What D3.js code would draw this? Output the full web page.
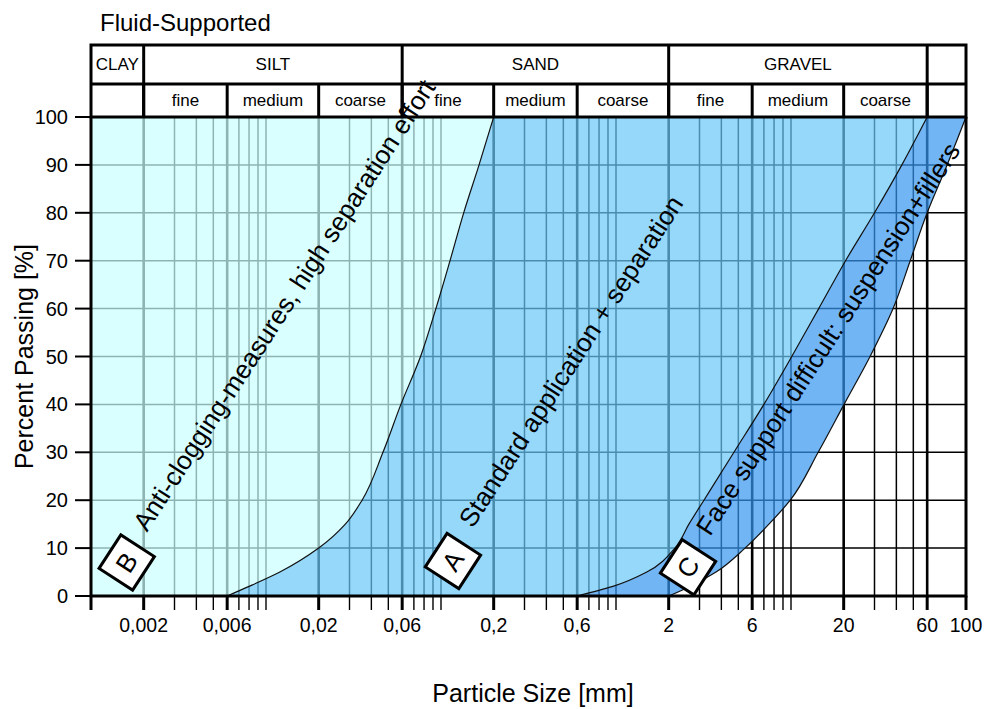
<!DOCTYPE html>
<html>
<head>
<meta charset="utf-8">
<script src="https://cdnjs.cloudflare.com/ajax/libs/d3/7.8.5/d3.min.js"></script>
<style>
body { margin: 0; background: #fff; }
svg text { font-family: "Liberation Sans", Arial, sans-serif; fill: #000; }
</style>
</head>
<body>
<div id="viz"></div>
<script>
// percent passing levels and grain sizes [mm] of the three limit curves
var passing = [0, 2, 5, 10, 15, 20, 30, 40, 50, 60, 70, 80, 90, 100];
var limitB  = [0.006, 0.008, 0.012, 0.02, 0.0284, 0.0354, 0.0466, 0.059, 0.0764, 0.0935, 0.1126, 0.1348, 0.165, 0.2];
var limitC1 = [0.6, 0.96, 1.5, 2.17, 2.61, 3.18, 4.72, 7.0, 10.1, 14.4, 20.5, 30, 43, 60];
var limitC2 = [2, 2.65, 3.73, 5.46, 7.48, 9.9, 14.3, 20.1, 28.3, 38.3, 48, 60, 78, 100];

var sizeTicks = [0.002, 0.006, 0.02, 0.06, 0.2, 0.6, 2, 6, 20, 60, 100];
var sizeTickLabels = ['0,002', '0,006', '0,02', '0,06', '0,2', '0,6', '2', '6', '20', '60', '100'];

// soil classes in the header
var classNames = ['CLAY', 'SILT', 'SAND', 'GRAVEL', ''];
var classEdges = [0.001, 0.002, 0.06, 2, 60, 100];
var subNames = ['', 'fine', 'medium', 'coarse', 'fine', 'medium', 'coarse', 'fine', 'medium', 'coarse', ''];
var subEdges = [0.001, 0.002, 0.006, 0.02, 0.06, 0.2, 0.6, 2, 6, 20, 60, 100];

// zone labels
var zoneLetters = ['B', 'A', 'C'];
var zoneTexts = ['Anti-clogging-measures, high separation effort',
                 'Standard application + separation',
                 'Face support difficult: suspension+fillers'];
var zoneBoxSize = [0.0016, 0.117, 2.58];
var zoneBoxPass = [7, 7.3, 6];
var zoneTextSize = [0.00209, 0.152, 3.44];
var zoneTextPass = [13.2, 14, 12.3];

var width = 987,
    height = 709,
    margin = {top: 117, right: 21, bottom: 113, left: 91},
    w = width - margin.left - margin.right,
    h = height - margin.top - margin.bottom,
    angle = -57;

var x = d3.scaleLog().domain([0.001, 100]).range([0, w]);
var y = d3.scaleLinear().domain([0, 100]).range([h, 0]);

var svg = d3.select('#viz').append('svg')
    .attr('width', width)
    .attr('height', height);

svg.append('text')
    .attr('x', 100).attr('y', 31)
    .style('font-size', '24px')
    .text('Fluid-Supported');

var g = svg.append('g').attr('transform', 'translate(' + margin.left + ',' + margin.top + ')');

function isMajor(d){
    return sizeTicks.some(function(t){ return Math.abs(t - d) / t < 1e-6; });
}

// grid (black, seen through the tinted zones)
var minor = x.ticks().filter(function(d){ return !(d > 60 && d < 100) && d > 0.001 && d < 100; });
g.selectAll('.vgrid').data(minor)
  .enter().append('line')
    .attr('x1', function(d){ return x(d); })
    .attr('x2', function(d){ return x(d); })
    .attr('y1', 0).attr('y2', h)
    .attr('stroke', '#000')
    .attr('stroke-width', function(d){ return isMajor(d) ? 2.6 : 1.5; });

g.selectAll('.hgrid').data(y.ticks(10).slice(1, -1))
  .enter().append('line')
    .attr('x1', 0).attr('x2', w)
    .attr('y1', function(d){ return y(d); })
    .attr('y2', function(d){ return y(d); })
    .attr('stroke', '#000')
    .attr('stroke-width', 1.5);

// zones
var zoneArea = d3.area()
    .curve(d3.curveMonotoneY)
    .y(function(d, i){ return y(passing[i]); });

var zones = [
    {x0: passing.map(function(){ return 0.001; }), x1: limitB, fill: '#c9ffff'},
    {x0: limitB, x1: limitC1, fill: '#69c7f8'},
    {x0: limitC1, x1: limitC2, fill: '#3695f1'}
];

g.selectAll('.zone').data(zones)
  .enter().append('path')
    .attr('d', function(z){
        return zoneArea
            .x0(function(d, i){ return x(z.x0[i]); })
            .x1(function(d, i){ return x(z.x1[i]); })(passing);
    })
    .attr('fill', function(z){ return z.fill; })
    .attr('fill-opacity', 0.7);

var limitLine = d3.line()
    .curve(d3.curveMonotoneY)
    .x(function(d){ return x(d); })
    .y(function(d, i){ return y(passing[i]); });

g.selectAll('.limit').data([limitB, limitC1, limitC2])
  .enter().append('path')
    .attr('d', limitLine)
    .attr('fill', 'none')
    .attr('stroke', '#111')
    .attr('stroke-width', 1.2);

// frame
g.append('path')
    .attr('d', 'M0,0V' + h + 'H' + w + 'V0')
    .attr('fill', 'none')
    .attr('stroke', '#000')
    .attr('stroke-width', 3);

// y axis
g.selectAll('.ytick').data(y.ticks(10))
  .enter().append('line')
    .attr('x1', -16).attr('x2', 0)
    .attr('y1', function(d){ return y(d); })
    .attr('y2', function(d){ return y(d); })
    .attr('stroke', '#000')
    .attr('stroke-width', 2);

g.selectAll('.ylabel').data(y.ticks(10))
  .enter().append('text')
    .attr('x', -23)
    .attr('y', function(d){ return y(d) + 7; })
    .attr('text-anchor', 'end')
    .style('font-size', '20px')
    .text(function(d){ return d; });

svg.append('text')
    .attr('transform', 'translate(33,' + (margin.top + h / 2) + ') rotate(-90)')
    .attr('text-anchor', 'middle')
    .style('font-size', '25px')
    .text('Percent Passing [%]');

// x axis
var xticks = [0.001].concat(minor, [100]);
g.selectAll('.xtick').data(xticks)
  .enter().append('line')
    .attr('x1', function(d){ return x(d); })
    .attr('x2', function(d){ return x(d); })
    .attr('y1', h).attr('y2', h + 14)
    .attr('stroke', '#000')
    .attr('stroke-width', function(d){ return (d === 0.001 || isMajor(d)) ? 3 : 1.4; });

g.selectAll('.xlabel').data(sizeTicks)
  .enter().append('text')
    .attr('x', function(d){ return x(d); })
    .attr('y', h + 36)
    .attr('text-anchor', 'middle')
    .style('font-size', '19.5px')
    .text(function(d, i){ return sizeTickLabels[i]; });

svg.append('text')
    .attr('x', 533).attr('y', 702)
    .attr('text-anchor', 'middle')
    .style('font-size', '25px')
    .text('Particle Size [mm]');

// header table
var head = g.append('g').attr('transform', 'translate(0,-72)');
head.append('rect')
    .attr('x', 0).attr('y', 0)
    .attr('width', w).attr('height', 72)
    .attr('fill', '#fff')
    .attr('stroke', '#000')
    .attr('stroke-width', 3);
head.append('line')
    .attr('x1', 0).attr('x2', w)
    .attr('y1', 39).attr('y2', 39)
    .attr('stroke', '#000').attr('stroke-width', 3);

head.selectAll('.cedge').data(classEdges.slice(1, -1))
  .enter().append('line')
    .attr('x1', function(d){ return x(d); })
    .attr('x2', function(d){ return x(d); })
    .attr('y1', 0).attr('y2', 72)
    .attr('stroke', '#000').attr('stroke-width', 3);

head.selectAll('.sedge').data(subEdges.slice(1, -1))
  .enter().append('line')
    .attr('x1', function(d){ return x(d); })
    .attr('x2', function(d){ return x(d); })
    .attr('y1', 39).attr('y2', 72)
    .attr('stroke', '#000').attr('stroke-width', 3);

head.selectAll('.cname').data(classNames)
  .enter().append('text')
    .attr('x', function(d, i){ return (x(classEdges[i]) + x(classEdges[i + 1])) / 2; })
    .attr('y', 25)
    .attr('text-anchor', 'middle')
    .style('font-size', '17px')
    .text(function(d){ return d; });

head.selectAll('.sname').data(subNames)
  .enter().append('text')
    .attr('x', function(d, i){ return (x(subEdges[i]) + x(subEdges[i + 1])) / 2; })
    .attr('y', 61)
    .attr('text-anchor', 'middle')
    .style('font-size', '17px')
    .text(function(d){ return d; });

// zone annotations
g.selectAll('.ztext').data(zoneTexts)
  .enter().append('text')
    .attr('transform', function(d, i){
        return 'translate(' + x(zoneTextSize[i]) + ',' + y(zoneTextPass[i]) + ') rotate(' + angle + ')';
    })
    .style('font-size', '26px')
    .text(function(d){ return d; });

var boxes = g.selectAll('.zbox').data(zoneLetters)
  .enter().append('g')
    .attr('transform', function(d, i){
        return 'translate(' + x(zoneBoxSize[i]) + ',' + y(zoneBoxPass[i]) + ') rotate(' + angle + ')';
    });

boxes.append('rect')
    .attr('x', -20).attr('y', -20)
    .attr('width', 40).attr('height', 40)
    .attr('fill', '#fff')
    .attr('stroke', '#000')
    .attr('stroke-width', 3);

boxes.append('text')
    .attr('y', 9)
    .attr('text-anchor', 'middle')
    .style('font-size', '26px')
    .text(function(d){ return d; });
</script>
</body>
</html>
